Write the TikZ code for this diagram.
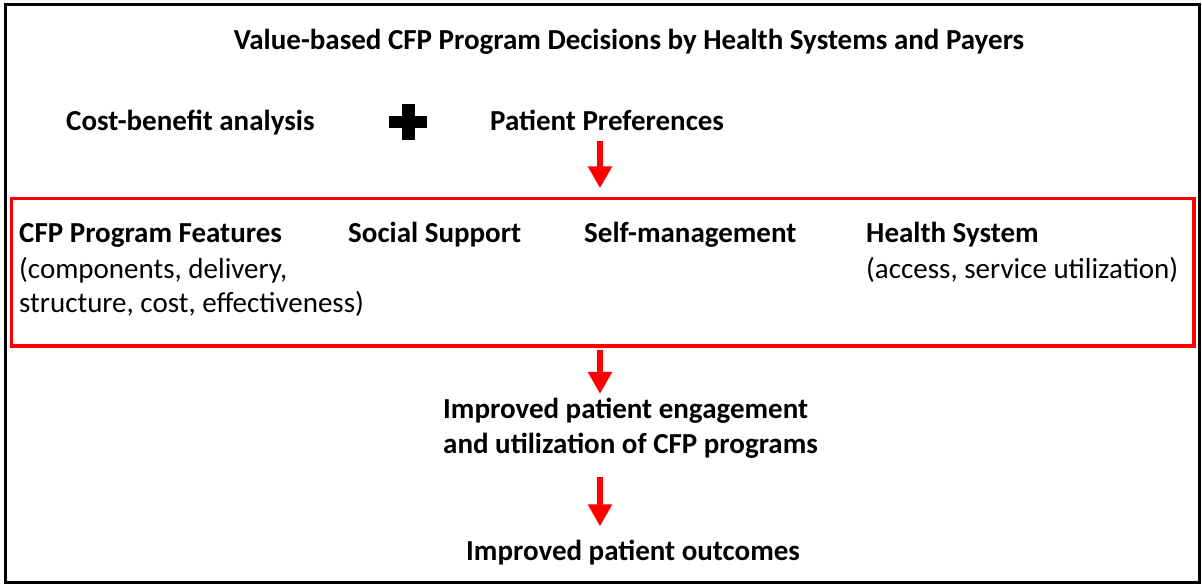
\documentclass[tikz,border=0pt]{standalone}
\usepackage{fontspec}
\setmainfont{Carlito}
\usetikzlibrary{arrows.meta}
\definecolor{boxred}{RGB}{255,0,0}
\begin{document}
\begin{tikzpicture}[x=1pt,y=-1pt,
  txt/.style={inner sep=0pt,anchor=base west,font=\fontsize{29}{34.5}\selectfont},
  hd/.style={txt,font=\fontsize{29}{34.5}\selectfont\bfseries},
  redarrow/.style={draw=boxred,line width=6.5pt,-{Triangle[width=23pt,length=22pt]},color=boxred},
  frame/.style={draw=black,line width=3pt},
  groupbox/.style={draw=boxred,line width=3.5pt,inner sep=0pt,
    minimum width=1182.5pt,minimum height=147.5pt}]
\useasboundingbox (0,0) rectangle (1202,586);
% outer frame
\draw[frame] (5,5) rectangle (1199.5,582.5);

% title and inputs
\node[hd,anchor=base] (title) at (629,50) {Value-based CFP Program Decisions by Health Systems and Payers};
\node[hd] (cba) at (66,130) {Cost-benefit analysis};
\node[hd] (pp) at (490,130) {Patient Preferences};
% plus sign between the two inputs
\fill[black] (402,104) rectangle (415,140);
\fill[black] (389,116) rectangle (427,128);

% grouped factors
\node[groupbox] (box) at (602.75,272.25) {};
\node[hd] (feat) at (19,242) {CFP Program Features};
\node[txt,align=left] (featd) at (19,312.5) {(components, delivery,\\structure, cost, effectiveness)};
\node[hd] (soc) at (348,242) {Social Support};
\node[hd] (self) at (584,242) {Self-management};
\node[hd] (hs) at (866,242) {Health System};
\node[txt] (hsd) at (866,278) {(access, service utilization)};

% outcomes
\node[hd,align=left] (eng) at (443,453) {Improved patient engagement\\and utilization of CFP programs};
\node[hd] (out) at (466,560) {Improved patient outcomes};

% red flow arrows, all on one vertical line
\coordinate (ax) at (600,0);
\draw[redarrow,shorten <=11pt,shorten >=8.5pt] (pp.south -| ax) -- (box.north -| ax);
\draw[redarrow,shorten <=2pt,shorten >=4pt] (box.south -| ax) -- (eng.north -| ax);
\draw[redarrow,shorten <=19pt,shorten >=13pt] (eng.south -| ax) -- (out.north -| ax);
\end{tikzpicture}
\end{document}
